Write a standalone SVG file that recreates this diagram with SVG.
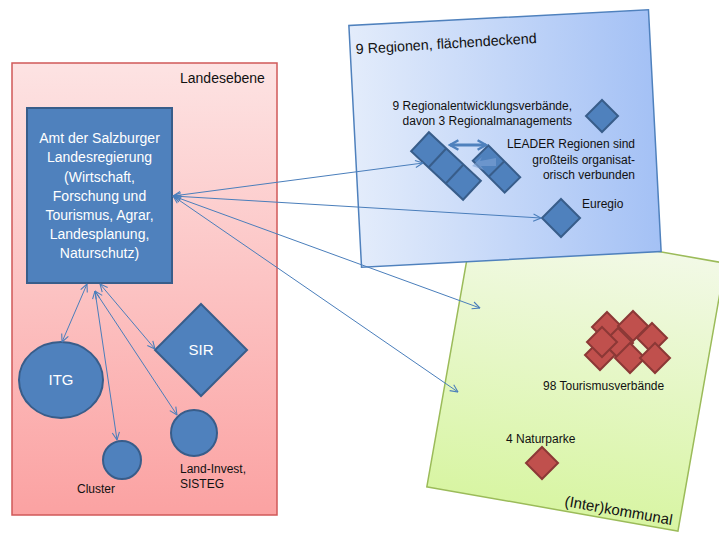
<svg xmlns="http://www.w3.org/2000/svg" width="719" height="534" viewBox="0 0 719 534">
<defs>
<linearGradient id="gRed" x1="0" y1="0" x2="0" y2="1">
<stop offset="0" stop-color="#fde3e3"/><stop offset="1" stop-color="#fba2a2"/>
</linearGradient>
<linearGradient id="gBlue" x1="0" y1="0" x2="1" y2="0">
<stop offset="0" stop-color="#e3ecfb"/><stop offset="1" stop-color="#a4c1f5"/>
</linearGradient>
<linearGradient id="gGreen" x1="0" y1="0" x2="0" y2="1">
<stop offset="0" stop-color="#f2f9e6"/><stop offset="1" stop-color="#d8f5a3"/>
</linearGradient>
<marker id="ah" viewBox="0 0 10 10" refX="9.5" refY="5" markerWidth="9" markerHeight="9" markerUnits="userSpaceOnUse" orient="auto-start-reverse">
<path d="M1,1 L9.5,5 L1,9" fill="none" stroke="#4a7ebb" stroke-width="1.2"/>
</marker>
<marker id="ahT" viewBox="0 0 10 10" refX="8" refY="5" markerWidth="4" markerHeight="4" orient="auto-start-reverse">
<path d="M1,1 L8,5 L1,9" fill="none" stroke="#4f81bd" stroke-width="2"/>
</marker>
</defs>
<style>
.t{font-family:"Liberation Sans",Arial,sans-serif;fill:#111}
.w{font-family:"Liberation Sans",Arial,sans-serif;fill:#fff}
.bn{fill:#4f81bd;stroke:#385d8a;stroke-width:2}
.rd{fill:#c0504d;stroke:#8c3836;stroke-width:2}
.cn{fill:none;stroke:#4a7ebb;stroke-width:1;marker-start:url(#ah);marker-end:url(#ah)}
</style>

<g id="landesebene">
<rect x="12" y="63" width="265" height="452" fill="url(#gRed)" stroke="#d05858" stroke-width="1.5"/>
<text class="t" x="180" y="83" font-size="14">Landesebene</text>
</g>

<g id="intercommunal">
<rect x="-127.5" y="-136" width="255" height="272" transform="translate(576,375) rotate(10)" fill="url(#gGreen)" stroke="#9bbb59" stroke-width="1.5"/>
<text class="t" font-size="15" transform="translate(564,506) rotate(10)">(Inter)kommunal</text>
</g>

<g id="regionen">
<rect x="-150" y="-121" width="300" height="242" transform="translate(505,138.5) rotate(-3)" fill="url(#gBlue)" stroke="#4f81bd" stroke-width="1.5"/>
<text class="t" font-size="14.3" transform="translate(356,54) rotate(-3.5)">9 Regionen, flächendeckend</text>
</g>

<g id="amt">
<rect x="27" y="108" width="145" height="175" class="bn"/>
<g class="w" font-size="14" text-anchor="middle">
<text x="99.5" y="143">Amt der Salzburger</text>
<text x="99.5" y="162">Landesregierung</text>
<text x="99.5" y="182">(Wirtschaft,</text>
<text x="99.5" y="201">Forschung und</text>
<text x="99.5" y="220">Tourismus, Agrar,</text>
<text x="99.5" y="239">Landesplanung,</text>
<text x="99.5" y="258">Naturschutz)</text>
</g>
</g>

<g id="itg">
<ellipse cx="61" cy="380" rx="42" ry="38" class="bn"/>
<text class="w" x="61" y="385" font-size="15" text-anchor="middle">ITG</text>
</g>

<g id="sir">
<polygon points="201,304 247,350 201,396 155,350" class="bn"/>
<text class="w" x="201" y="355" font-size="15" text-anchor="middle">SIR</text>
</g>

<g id="cluster">
<circle cx="122" cy="460" r="19" class="bn"/>
<text class="t" x="77" y="493" font-size="12">Cluster</text>
</g>

<g id="landinvest">
<circle cx="194" cy="433" r="23" class="bn"/>
<text class="t" x="180" y="473" font-size="12">Land-Invest,</text>
<text class="t" x="180" y="488" font-size="12">SISTEG</text>
</g>

<g id="regionalverbaende">
<g transform="translate(446,166) rotate(43)">
<rect x="-35.5" y="-13" width="71" height="26" class="bn"/>
<line x1="-11.8" y1="-13" x2="-11.8" y2="13" stroke="#385d8a" stroke-width="2"/>
<line x1="11.8" y1="-13" x2="11.8" y2="13" stroke="#385d8a" stroke-width="2"/>
</g>
<g transform="translate(496.5,169) rotate(45)">
<rect x="-22.5" y="-11" width="45" height="22" class="bn"/>
<line x1="0" y1="-11" x2="0" y2="11" stroke="#385d8a" stroke-width="2"/>
</g>
<path d="M496,158 L480,161 L482,157 L472,166 L484,170 L481,166 L496,166 Z" fill="#7fa3d6" opacity="0.6"/>
<line x1="450" y1="145" x2="486" y2="145" stroke="#4f81bd" stroke-width="3" marker-start="url(#ahT)" marker-end="url(#ahT)"/>
<text class="t" x="572" y="110" font-size="12" text-anchor="end">9 Regionalentwicklungsverbände,</text>
<text class="t" x="572" y="125" font-size="12" text-anchor="end">davon 3 Regionalmanagements</text>
</g>

<g id="leader">
<polygon points="602,100 618,116 602,132 586,116" class="bn"/>
<text class="t" x="635" y="148" font-size="12" text-anchor="end">LEADER Regionen sind</text>
<text class="t" x="635" y="163.5" font-size="12" text-anchor="end">großteils organisat-</text>
<text class="t" x="635" y="179" font-size="12" text-anchor="end">orisch verbunden</text>
</g>

<g id="euregio">
<polygon points="561,199 580,218 561,237 542,218" class="bn"/>
<text class="t" x="582" y="208" font-size="12">Euregio</text>
</g>

<g id="tourismus">
<g class="rd">
<polygon points="607,312 622,327 607,342 592,327"/>
<polygon points="633,311 648,326 633,341 618,326"/>
<polygon points="652,323 667,338 652,353 637,338"/>
<polygon points="618,328 633,343 618,358 603,343"/>
<polygon points="600,340 615,355 600,370 585,355"/>
<polygon points="630,343 645,358 630,373 615,358"/>
<polygon points="602,327 617,342 602,357 587,342"/>
<polygon points="655,343 670,358 655,373 640,358"/>
</g>
<text class="t" x="543" y="390" font-size="12">98 Tourismusverbände</text>
</g>

<g id="naturparke">
<polygon points="542,447 558,463 542,479 526,463" class="rd"/>
<text class="t" x="506" y="443" font-size="12">4 Naturparke</text>
</g>

<g id="connectors">
<line x1="173" y1="196" x2="423" y2="163" class="cn"/>
<line x1="173" y1="196" x2="541" y2="218" class="cn"/>
<line x1="173" y1="196" x2="480" y2="308" class="cn"/>
<line x1="173" y1="196" x2="458" y2="392" class="cn"/>
<line x1="87" y1="284" x2="62" y2="342" class="cn"/>
<line x1="100" y1="284" x2="155" y2="349" class="cn"/>
<line x1="95" y1="291" x2="117" y2="440" class="cn"/>
<line x1="95" y1="291" x2="177" y2="415" class="cn"/>
</g>
</svg>
